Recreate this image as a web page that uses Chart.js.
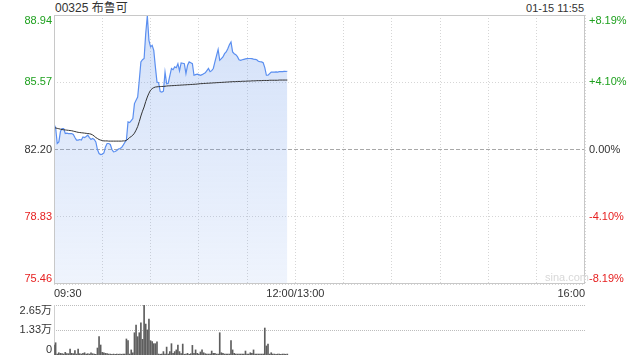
<!DOCTYPE html>
<html><head><meta charset="utf-8">
<script src="https://cdn.jsdelivr.net/npm/chart.js@4.4.1/dist/chart.umd.min.js"></script>
<style>
html,body{margin:0;padding:0;background:#fff;}
body{width:640px;height:360px;position:relative;overflow:hidden;font-family:Arial,"Liberation Sans","Noto Sans CJK SC",sans-serif;}
#title{position:absolute;left:55px;top:0;font-size:12px;color:#333;line-height:16px;white-space:nowrap;}
#time{position:absolute;right:56px;top:1px;font-size:11px;color:#333;line-height:14px;white-space:nowrap;}
#mark{position:absolute;left:545px;top:270px;font-size:11px;color:#d8d8d8;line-height:14px;}
#c1{position:absolute;left:0;top:0;}
#c2{position:absolute;left:0;top:300px;}
</style></head><body>
<div id="title">00325 布鲁可</div>
<div id="time">01-15 11:55</div>
<canvas id="c1" width="640" height="300"></canvas>
<canvas id="c2" width="640" height="60"></canvas>
<div id="mark">sina.com</div>
<script>
// ---- data ----
const timeTicks = [0, 150, 330];
const timeLabels = ['09:30', '12:00/13:00', '16:00'];
const priceTicks = [75.46, 78.83, 82.20, 85.57, 88.94];
const pctLabels = ['-8.19%', '-4.10%', '0.00%', '+4.10%', '+8.19%'];
const prevClose = 82.20;
const volTicks = [0, 1.33, 2.65];
const volLabels = ['0', '1.33万', '2.65万'];

const price = [
 83.47,83.30,82.50,82.58,83.10,83.25,83.25,83.00,83.02,83.00,
 83.00,83.00,82.95,82.80,82.67,82.67,82.70,82.67,82.83,82.80,
 82.85,82.92,82.80,82.70,82.75,82.70,82.58,82.20,82.00,81.95,
 81.97,82.03,82.33,82.50,82.50,82.45,82.20,82.08,82.10,82.15,
 82.22,82.25,82.30,82.42,82.55,82.67,83.58,83.55,83.65,83.75,
 84.50,84.67,84.83,85.67,86.59,86.70,86.76,88.01,88.90,87.67,
 87.34,87.42,87.17,86.34,85.58,85.55,85.10,85.08,85.12,86.08,
 85.50,85.52,85.90,86.26,86.20,86.34,86.30,86.50,86.14,86.54,
 86.52,86.50,86.00,86.42,86.59,86.55,86.50,85.92,85.95,85.98,
 85.95,85.92,85.95,86.00,86.04,86.15,86.26,86.10,86.15,86.26,
 86.59,86.90,87.21,86.67,86.75,86.84,87.00,87.09,87.25,87.45,
 87.59,87.09,87.00,86.95,86.85,86.70,86.67,86.70,86.72,86.74,
 86.75,86.76,86.76,86.75,86.73,86.72,86.70,86.62,86.60,86.59,
 86.55,86.30,85.92,85.92,86.00,86.08,86.08,86.08,86.09,86.08,
 86.10,86.10,86.10,86.11,86.11,86.12];

const avgPrice = [
 83.30,83.28,83.26,83.24,83.22,83.20,83.19,83.18,83.17,83.16,
 83.15,83.14,83.12,83.10,83.08,83.06,83.05,83.04,83.03,83.02,
 83.01,83.00,82.99,82.97,82.93,82.87,82.80,82.75,82.70,82.67,
 82.65,82.63,82.63,82.63,82.62,82.62,82.62,82.62,82.62,82.62,
 82.62,82.62,82.62,82.63,82.63,82.66,82.72,82.80,82.85,82.92,
 83.02,83.17,83.35,83.60,83.88,84.12,84.33,84.60,84.83,85.02,
 85.17,85.25,85.30,85.33,85.34,85.35,85.35,85.36,85.36,85.37,
 85.38,85.39,85.39,85.40,85.40,85.41,85.41,85.42,85.42,85.43,
 85.43,85.44,85.44,85.45,85.45,85.46,85.46,85.47,85.47,85.48,
 85.49,85.50,85.50,85.51,85.51,85.52,85.52,85.53,85.53,85.54,
 85.54,85.55,85.55,85.56,85.56,85.57,85.57,85.58,85.58,85.59,
 85.59,85.60,85.60,85.60,85.61,85.61,85.61,85.62,85.62,85.62,
 85.63,85.63,85.63,85.64,85.64,85.64,85.65,85.65,85.65,85.65,
 85.66,85.66,85.66,85.66,85.67,85.67,85.67,85.67,85.67,85.67,
 85.68,85.68,85.68,85.68,85.68,85.68];

const volume = [
 0.53,0.65,0.05,0.12,0.09,0.07,0.05,0.14,0.07,0.07,
 0.32,0.09,0.07,0.23,0.05,0.32,0.07,0.05,0.09,0.12,
 0.05,0.07,0.05,0.11,0.07,0.05,0.04,0.37,0.97,0.53,
 0.14,0.12,0.09,0.07,0.05,0.05,0.04,0.05,0.04,0.05,
 0.04,0.05,0.04,0.05,0.05,0.85,0.76,0.05,0.27,0.12,
 1.18,1.59,0.97,1.18,1.71,0.83,2.65,1.64,1.33,1.91,
 0.76,0.71,0.60,0.60,0.70,0.05,0.04,0.05,0.18,0.05,
 0.42,0.05,0.18,0.60,0.09,0.18,0.27,0.53,0.18,0.07,
 0.58,0.04,0.05,0.09,0.04,0.07,0.51,0.09,0.27,0.09,
 0.05,0.16,0.27,0.12,0.07,0.05,0.05,0.05,0.21,0.09,
 0.09,0.05,0.05,1.18,0.12,0.09,0.05,0.05,0.05,0.05,
 0.76,0.27,0.09,0.05,0.05,0.05,0.05,0.05,0.05,0.21,
 0.05,0.05,0.12,0.09,0.27,0.05,0.05,0.05,0.05,0.05,
 0.05,1.43,0.48,0.58,0.05,0.12,0.05,0.05,0.04,0.05,
 0.05,0.04,0.05,0.05,0.04,0.05];

// ---- rendering ----
const FONT = 'Arial, "Liberation Sans", "Noto Sans CJK SC", sans-serif';
Chart.defaults.font.family = FONT;
Chart.defaults.font.size = 11;
Chart.defaults.color = '#333';
const UP = '#1ea01e', DOWN = '#e62020', FLAT = '#333';
const tickColor = (ctx) => {
  const v = priceTicks[ctx.index];
  return v > prevClose ? UP : (v < prevClose ? DOWN : FLAT);
};
const edgeLabel = (txt, i, n) => i === 0 ? [txt, ''] : (i === n - 1 ? ['', txt] : txt);
const noPad = (s) => { s.paddingTop = 0; s.paddingBottom = 0; };

const framePlugin = {
  id: 'frame',
  afterDraw(chart) {
    const ca = chart.chartArea, c = chart.ctx;
    c.save();
    c.strokeStyle = '#c8c8c8';
    c.lineWidth = 1;
    c.strokeRect(Math.round(ca.left) + 0.5, Math.round(ca.top) + 0.5,
                 Math.round(ca.right - ca.left) - 1, Math.round(ca.bottom - ca.top) - 1);
    c.restore();
  }
};

// dotted level lines of the volume panel, placed through the library's y scale
const volGridPlugin = {
  id: 'volGrid',
  beforeDatasetsDraw(chart) {
    const ca = chart.chartArea, c = chart.ctx, ys = chart.scales.y;
    c.save();
    c.strokeStyle = '#bdbdbd';
    c.lineWidth = 1;
    c.setLineDash([1, 1]);
    volTicks.forEach(v => {
      if (v === 0) return;
      const y = Math.round(ys.getPixelForValue(v)) + 0.5;
      c.beginPath();
      c.moveTo(ca.left, y);
      c.lineTo(ca.right, y);
      c.stroke();
    });
    c.setLineDash([]);
    c.strokeStyle = '#d0d0d0';
    c.beginPath();
    c.moveTo(Math.round(ca.left) + 0.5, ca.top);
    c.lineTo(Math.round(ca.left) + 0.5, ca.bottom);
    c.stroke();
    c.restore();
  }
};

const pts = (arr) => arr.map((v, i) => ({ x: i, y: v }));

new Chart(document.getElementById('c1'), {
  type: 'line',
  data: {
    datasets: [
      {
        data: pts(avgPrice), borderColor: '#333', borderWidth: 1,
        pointRadius: 0, fill: false, tension: 0, order: 0
      },
      {
        data: pts(price), borderColor: '#5b8ff0', borderWidth: 1.2,
        pointRadius: 0, tension: 0, fill: 'start', order: 1,
        backgroundColor: (ctx) => {
          const ca = ctx.chart.chartArea;
          if (!ca) return 'rgba(110,155,235,0.2)';
          const g = ctx.chart.ctx.createLinearGradient(0, ca.top, 0, ca.bottom);
          g.addColorStop(0, 'rgba(110,155,235,0.30)');
          g.addColorStop(1, 'rgba(110,155,235,0.11)');
          return g;
        }
      }
    ]
  },
  options: {
    responsive: false, animation: false, devicePixelRatio: 1,
    layout: { padding: { top: 15, left: 0, right: 0, bottom: 0 } },
    plugins: { legend: { display: false }, tooltip: { enabled: false } },
    scales: {
      x: {
        type: 'linear', min: 0, max: 330,
        afterFit: (s) => { s.height = 16; },
        ticks: {
          stepSize: 30, autoSkip: false, maxRotation: 0, align: 'inner', padding: 3,
          color: '#333',
          callback: (v) => { const k = timeTicks.indexOf(v); return k >= 0 ? timeLabels[k] : ''; }
        },
        grid: { color: '#d6d6d6', drawTicks: false },
        border: { display: false, dash: [1, 2] }
      },
      y: {
        position: 'left', min: priceTicks[0], max: priceTicks[priceTicks.length - 1],
        afterFit: (s) => { s.width = 54; noPad(s); },
        afterBuildTicks: (s) => { s.ticks = priceTicks.map(v => ({ value: v })); },
        ticks: {
          autoSkip: false, padding: 2, color: tickColor, font: { lineHeight: 1 },
          callback: (v, i) => edgeLabel(Number(v).toFixed(2), i, priceTicks.length)
        },
        grid: {
          drawTicks: false,
          color: (ctx) => (ctx.tick && ctx.tick.value === prevClose) ? '#a8a8a8' : '#d6d6d6'
        },
        border: {
          display: false,
          dash: (ctx) => (ctx.tick && ctx.tick.value === prevClose) ? [4, 2] : [1, 2]
        }
      },
      y2: {
        position: 'right', min: priceTicks[0], max: priceTicks[priceTicks.length - 1],
        afterFit: (s) => { s.width = 55; noPad(s); },
        afterBuildTicks: (s) => { s.ticks = priceTicks.map(v => ({ value: v })); },
        ticks: {
          autoSkip: false, padding: 4, color: tickColor, font: { lineHeight: 1 },
          callback: (v, i) => edgeLabel(pctLabels[i], i, pctLabels.length)
        },
        grid: { display: false, drawTicks: false },
        border: { display: false }
      }
    }
  },
  plugins: [framePlugin]
});

new Chart(document.getElementById('c2'), {
  type: 'bar',
  data: {
    datasets: [{
      data: pts(volume), backgroundColor: '#5e5e5e', borderWidth: 0,
      barThickness: 1
    }]
  },
  options: {
    responsive: false, animation: false, devicePixelRatio: 1,
    layout: { padding: { top: 5, left: 0, right: 55, bottom: 5 } },
    plugins: { legend: { display: false }, tooltip: { enabled: false } },
    scales: {
      x: { type: 'linear', min: 0, max: 330, display: false, offset: false },
      y: {
        position: 'left', min: volTicks[0], max: volTicks[volTicks.length - 1],
        afterFit: (s) => { s.width = 54; noPad(s); },
        afterBuildTicks: (s) => { s.ticks = volTicks.map(v => ({ value: v })); },
        ticks: {
          autoSkip: false, padding: 2, color: '#333', font: { lineHeight: 1 },
          callback: (v, i) => edgeLabel(volLabels[i], i, volLabels.length)
        },
        grid: { display: false, drawTicks: false },
        border: { display: false }
      }
    }
  },
  plugins: [volGridPlugin]
});
</script>
</body></html>
